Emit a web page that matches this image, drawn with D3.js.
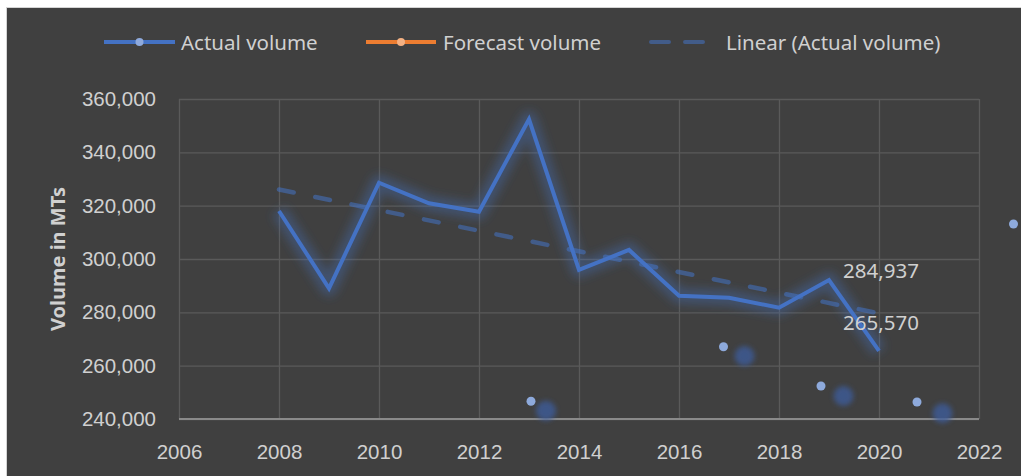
<!DOCTYPE html>
<html>
<head>
<meta charset="utf-8">
<script src="https://cdn.jsdelivr.net/npm/d3@7"></script>
<style>
  html, body { margin: 0; padding: 0; background: #ffffff; }
  svg { display: block; font-family: "Noto Sans", "Open Sans", sans-serif; }
</style>
</head>
<body>
<div id="chart"></div>
<script>
// Data
const years = [2008, 2009, 2010, 2011, 2012, 2013, 2014, 2015, 2016, 2017, 2018, 2019, 2020];
const actualVolume = [318000, 289000, 328600, 320900, 317750, 352400, 295900, 303400, 286250, 285500, 281750, 292125, 265570];
const forecastYears = [2020];
const forecastVolume = [284937];
const xTicks = [2006, 2008, 2010, 2012, 2014, 2016, 2018, 2020, 2022];
const yTicks = [240000, 260000, 280000, 300000, 320000, 340000, 360000];

// stray marker dots visible in the picture (small dot + blurred shadow)
const strayYears = [2013.04, 2016.89, 2018.84, 2020.76, 2022.69];
const strayValues = [246640, 267110, 252375, 246375, 313125];
const shadowYears = [2013.34, 2017.31, 2019.29, 2021.27];
const shadowValues = [243110, 263625, 248625, 242140];

const W = 1021, H = 476;

const svg = d3.select("#chart").append("svg")
    .attr("width", W)
    .attr("height", H);

const defs = svg.append("defs");
defs.append("filter").attr("id", "glow")
    .attr("x", "-20%").attr("y", "-20%").attr("width", "140%").attr("height", "140%")
    .append("feGaussianBlur").attr("stdDeviation", 5);
defs.append("filter").attr("id", "blurDot")
    .attr("x", "-100%").attr("y", "-100%").attr("width", "300%").attr("height", "300%")
    .append("feGaussianBlur").attr("stdDeviation", 2.5);

// chart background with frame
svg.append("rect")
    .attr("x", 6.5).attr("y", 7.5)
    .attr("width", W - 6).attr("height", H)
    .attr("fill", "#404040")
    .attr("stroke", "#d4d4d4")
    .attr("stroke-width", 1);

// Scales
const x = d3.scaleLinear().domain([2006, 2022]).range([179, 979]);
const y = d3.scaleLinear().domain([240000, 360000]).range([419, 99]);

const textColor = "#d0d0d0";

// Y gridlines + labels
const yAxis = svg.append("g")
    .attr("transform", `translate(${x(2006)},0)`)
    .call(d3.axisLeft(y)
        .tickValues(yTicks)
        .tickFormat(d3.format(","))
        .tickSizeInner(-(x(2022) - x(2006)))
        .tickSizeOuter(0)
        .tickPadding(23));
yAxis.select(".domain").remove();
yAxis.selectAll(".tick line").attr("stroke", "#5a5a5a").attr("stroke-width", 1.3);
yAxis.selectAll(".tick text")
    .attr("fill", textColor)
    .style("font-size", "20.5px");

// X gridlines + labels
const xAxis = svg.append("g")
    .attr("transform", `translate(0,${y(240000)})`)
    .call(d3.axisBottom(x)
        .tickValues(xTicks)
        .tickFormat(d3.format("d"))
        .tickSizeInner(-(y(240000) - y(360000)))
        .tickSizeOuter(0)
        .tickPadding(25));
xAxis.select(".domain").remove();
xAxis.selectAll(".tick line").attr("stroke", "#5a5a5a").attr("stroke-width", 1.3);
xAxis.selectAll(".tick text")
    .attr("fill", textColor)
    .style("font-size", "20.5px");

// bottom axis line
svg.append("line")
    .attr("x1", x(2006)).attr("x2", x(2022))
    .attr("y1", y(240000)).attr("y2", y(240000))
    .attr("stroke", "#8a8a8a")
    .attr("stroke-width", 2);

// Y axis title
svg.append("text")
    .attr("transform", `translate(57,${(y(240000) + y(360000)) / 2}) rotate(-90)`)
    .attr("text-anchor", "middle")
    .attr("dominant-baseline", "central")
    .attr("fill", textColor)
    .style("font-size", "20px")
    .style("font-weight", "bold")
    .text("Volume in MTs");

const actual = years.map((yr, i) => ({ year: yr, value: actualVolume[i] }));
const forecast = forecastYears.map((yr, i) => ({ year: yr, value: forecastVolume[i] }));

// Linear trend of actual volume (least squares, like the spreadsheet trendline)
const n = actual.length;
const mx = d3.mean(actual, d => d.year), my = d3.mean(actual, d => d.value);
const slope = d3.sum(actual, d => (d.year - mx) * (d.value - my)) / d3.sum(actual, d => (d.year - mx) ** 2);
const trend = [years[0], years[n - 1]].map(yr => ({ year: yr, value: my + slope * (yr - mx) }));

const line = d3.line().x(d => x(d.year)).y(d => y(d.value));

// stray marker shadows and dots
svg.selectAll(".shadow")
    .data(shadowYears.map((yr, i) => ({ year: yr, value: shadowValues[i] })))
    .enter().append("circle")
    .attr("class", "shadow")
    .attr("cx", d => x(d.year))
    .attr("cy", d => y(d.value))
    .attr("r", 10)
    .attr("fill", "#3d5c99")
    .attr("opacity", 0.8)
    .attr("filter", "url(#blurDot)");

// trend line
svg.append("path")
    .datum(trend)
    .attr("d", line)
    .attr("fill", "none")
    .attr("stroke", "#4472c4")
    .attr("stroke-opacity", 0.55)
    .attr("stroke-width", 4.5)
    .attr("stroke-linecap", "round")
    .attr("stroke-dasharray", "15,22");

// glow under actual line
svg.append("path")
    .datum(actual)
    .attr("d", line)
    .attr("fill", "none")
    .attr("stroke", "#4472c4")
    .attr("stroke-opacity", 0.35)
    .attr("stroke-width", 16)
    .attr("stroke-linejoin", "round")
    .attr("filter", "url(#glow)");

svg.append("path")
    .datum(actual)
    .attr("d", line)
    .attr("fill", "none")
    .attr("stroke", "#4472c4")
    .attr("stroke-width", 4)
    .attr("stroke-linejoin", "miter");

svg.selectAll(".stray")
    .data(strayYears.map((yr, i) => ({ year: yr, value: strayValues[i] })))
    .enter().append("circle")
    .attr("class", "stray")
    .attr("cx", d => x(d.year))
    .attr("cy", d => y(d.value))
    .attr("r", 4.5)
    .attr("fill", "#8eaadc");

// data labels at 2020
const labels = [actual[n - 1], forecast[0]];
svg.selectAll(".dlabel")
    .data(labels)
    .enter().append("text")
    .attr("class", "dlabel")
    .attr("x", d => x(d.year) + 2)
    .attr("y", d => y(d.value) - 29)
    .attr("text-anchor", "middle")
    .attr("dominant-baseline", "central")
    .attr("fill", textColor)
    .style("font-size", "20.5px")
    .text(d => d3.format(",")(d.value));

// Legend
const LY = 42;
const legend = svg.append("g");
const legendItems = [
    { name: "Actual volume", x1: 104, x2: 175, tx: 181, color: "#4472c4", marker: "#8faadc" },
    { name: "Forecast volume", x1: 366, x2: 436, tx: 443, color: "#ed7d31", marker: "#f4b183" },
    { name: "Linear (Actual volume)", x1: 651, x2: 705, tx: 726, color: "#4472c4", dashed: true }
];
legendItems.forEach(it => {
    const ln = legend.append("line")
        .attr("x1", it.x1).attr("x2", it.x2)
        .attr("y1", LY).attr("y2", LY)
        .attr("stroke", it.color)
        .attr("stroke-width", 4);
    if (it.dashed) {
        ln.attr("stroke-opacity", 0.55)
          .attr("stroke-linecap", "round")
          .attr("stroke-dasharray", "18,16");
    }
    if (it.marker) {
        legend.append("circle")
            .attr("cx", (it.x1 + it.x2) / 2)
            .attr("cy", LY)
            .attr("r", 4)
            .attr("fill", it.marker);
    }
    legend.append("text")
        .attr("x", it.tx)
        .attr("y", LY)
        .attr("dominant-baseline", "central")
        .attr("fill", textColor)
        .style("font-size", "20.5px")
        .text(it.name);
});
</script>
</body>
</html>
